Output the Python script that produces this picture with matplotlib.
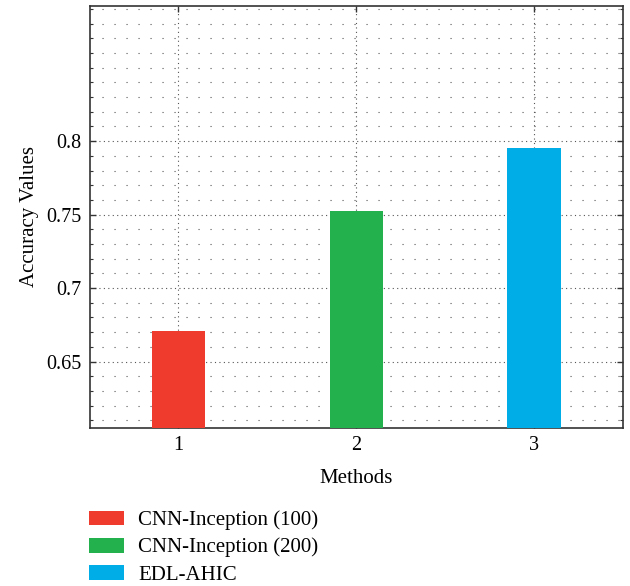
import matplotlib
matplotlib.use("Agg")
import matplotlib.pyplot as plt
from matplotlib.patches import Patch
from matplotlib.ticker import MultipleLocator

plt.rcParams['font.family'] = ['Liberation Serif', 'DejaVu Serif']

methods = [1, 2, 3]
accuracy = [0.6706, 0.7522, 0.7955]
series_names = ['CNN-Inception (100)', 'CNN-Inception (200)', 'EDL-AHIC']
colors = ['#EE3B2E', '#22B14C', '#00ADE6']
yticks = [0.65, 0.7, 0.75, 0.8]
ytick_labels = ['0.65', '0.7', '0.75', '0.8']

W, H = 630, 586
fig = plt.figure(figsize=(W / 100, H / 100), dpi=100)
ax = fig.add_axes([89.5 / W, 1 - 427.7 / H, (623 - 89.5) / W, (427.7 - 6) / H])

ax.bar(methods, accuracy, width=0.3, color=colors, zorder=3)

ax.set_xlim(0.5, 3.5)
ax.set_ylim(0.605, 0.892)
ax.set_xticks(methods)
ax.set_xticklabels([str(m) for m in methods])
ax.set_yticks(yticks)
ax.set_yticklabels(ytick_labels)
ax.yaxis.set_minor_locator(MultipleLocator(0.01))

ax.set_axisbelow(True)
ax.grid(which='major', axis='both', color='#555555', linestyle=(0, (1, 3)), linewidth=0.8)
ax.grid(which='minor', axis='y', color='#555555', linestyle=(0, (1, 9.8)), linewidth=0.8)

ax.tick_params(which='major', direction='in', length=4, width=1, top=True, right=True,
               labelsize=14.5, pad=6, color='#333333')
ax.tick_params(which='minor', direction='in', length=2, width=0.8, top=False, right=True,
               color='#333333')
for s in ax.spines.values():
    s.set_color('#333333')
    s.set_linewidth(1.2)

ax.set_xlabel('Methods', fontsize=15, labelpad=10)
ax.set_ylabel('Accuracy Values', fontsize=15, labelpad=5)

handles = [Patch(facecolor=c, edgecolor='none') for c in colors]
fig.legend(handles, series_names, loc='upper left',
           bbox_to_anchor=(89 / W, 1 - 510.5 / H), frameon=False, fontsize=15,
           handlelength=1.68, handleheight=0.72, handletextpad=0.67,
           labelspacing=0.36, borderpad=0, borderaxespad=0)

fig.savefig('out.png', dpi=100)
